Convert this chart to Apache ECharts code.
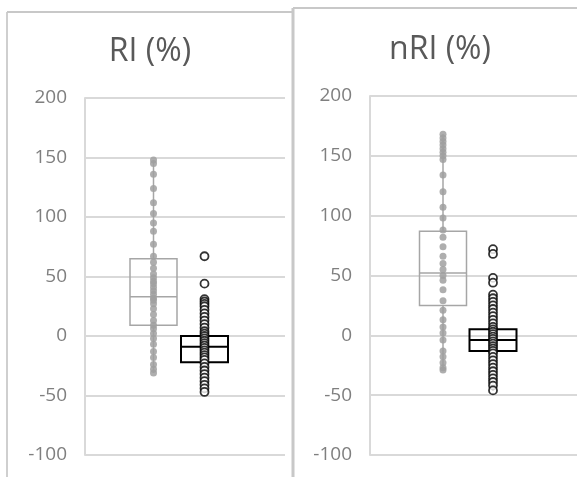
<!DOCTYPE html>
<html>
<head>
<meta charset="utf-8">
<script src="https://cdn.jsdelivr.net/npm/echarts@6/dist/echarts.min.js"></script>
<style>html,body{margin:0;padding:0;background:#fff}#c{width:577px;height:477px}</style>
</head>
<body>
<div id="c"></div>
<script>
var yTicks = [-100, -50, 0, 50, 100, 150, 200];
var titles = ['RI (%)', 'nRI (%)'];
var groups = ['A', 'B'];
// [min, Q1, median, Q3, max]
var riBox = [[-31, 9, 33, 65, 148], [-47, -22, -9, 0, 31]];
var nriBox = [[-29, 25, 52, 87, 168], [-46, -13, -4, 5, 34]];
var riGrey = [148, 145, 136, 124, 112, 103, 95, 88, 77, 67, 62, 57, 52, 49, 46, 44, 41, 38, 35, 32, 30, 27, 23, 18, 13, 9, 6, 2, -2, -7, -13, -18, -24, -28, -31];
var riBlack = [67, 44, 31, 29, 27, 25, 22, 19, 16, 13, 10, 7, 4, 2, 0, -2, -4, -6, -8, -10, -12, -14, -16, -18, -20, -23, -26, -29, -32, -35, -38, -41, -44, -47];
var nriGrey = [168, 165, 162, 159, 156, 153, 150, 147, 134, 120, 107, 98, 88, 82, 74, 66, 60, 55, 50, 46, 38, 29, 21, 13, 7, 2, -4, -13, -18, -23, -27, -29];
var nriBlack = [72, 68, 48, 44, 34, 31, 28, 25, 22, 19, 16, 13, 10, 7, 5, 3, 1, -1, -3, -5, -7, -9, -11, -13, -15, -18, -21, -24, -27, -30, -33, -36, -39, -42, -46];

var chart = echarts.init(document.getElementById('c'));
var FONT = 'Open Sans';
var boxColors = ['#a6a6a6', '#000000'];
var boxLW = [1.5, 2];

function boxRender(params, api) {
  var cat = api.value(0);
  var w = 47;
  var pMin = api.coord([cat, api.value(1)]);
  var pQ1 = api.coord([cat, api.value(2)]);
  var pMed = api.coord([cat, api.value(3)]);
  var pQ3 = api.coord([cat, api.value(4)]);
  var pMax = api.coord([cat, api.value(5)]);
  var x = pMed[0];
  var st = {stroke: boxColors[cat], lineWidth: boxLW[cat], fill: null};
  return {
    type: 'group',
    children: [
      {type: 'line', shape: {x1: x, y1: pMax[1], x2: x, y2: pQ3[1]}, style: st},
      {type: 'line', shape: {x1: x, y1: pQ1[1], x2: x, y2: pMin[1]}, style: st},
      {type: 'rect', shape: {x: x - w / 2, y: pQ3[1], width: w, height: pQ1[1] - pQ3[1]}, style: st},
      {type: 'line', shape: {x1: x - w / 2, y1: pMed[1], x2: x + w / 2, y2: pMed[1]}, style: st}
    ]
  };
}
function boxData(arr) {
  return arr.map(function (b, i) { return [i].concat(b); });
}
function pts(arr, cat) { return arr.map(function (v) { return [cat, v]; }); }

var panelGrids = [
  {left: 85, top: 98, width: 200, height: 357},
  {left: 370, top: 96, width: 207, height: 359}
];
var boxGrids = [
  {left: 128, top: 98, width: 102, height: 357},
  {left: 418, top: 96, width: 100, height: 359}
];

var grids = [], xAxes = [], yAxes = [], series = [];
[0, 1].forEach(function (p) {
  grids.push(panelGrids[p]);
  grids.push(boxGrids[p]);
  xAxes.push({type: 'value', gridIndex: 2 * p, show: false, min: 0, max: 1});
  xAxes.push({type: 'category', gridIndex: 2 * p + 1, data: groups, show: false, boundaryGap: true});
  yAxes.push({
    type: 'value', gridIndex: 2 * p, min: yTicks[0], max: yTicks[yTicks.length - 1], interval: 50,
    axisLine: {show: true, lineStyle: {color: '#d9d9d9', width: 2}},
    axisTick: {show: false},
    axisLabel: {color: '#7f7f7f', fontSize: 19, fontFamily: FONT, margin: 18},
    splitLine: {show: true, lineStyle: {color: '#d9d9d9', width: 2}}
  });
  yAxes.push({type: 'value', gridIndex: 2 * p + 1, min: -100, max: 200, interval: 50, show: false, splitLine: {show: false}});
  var bx = p === 0 ? riBox : nriBox;
  var gr = p === 0 ? riGrey : nriGrey;
  var bl = p === 0 ? riBlack : nriBlack;
  series.push({
    type: 'custom', xAxisIndex: 2 * p + 1, yAxisIndex: 2 * p + 1,
    renderItem: boxRender, data: boxData(bx), z: 2, silent: true
  });
  series.push({
    type: 'scatter', xAxisIndex: 2 * p + 1, yAxisIndex: 2 * p + 1, data: pts(gr, 0),
    symbolSize: 7, itemStyle: {color: '#a0a0a0', opacity: 0.85}, z: 3
  });
  series.push({
    type: 'scatter', xAxisIndex: 2 * p + 1, yAxisIndex: 2 * p + 1, data: pts(bl, 1),
    symbolSize: 8, itemStyle: {color: '#ffffff', borderColor: '#000000', borderWidth: 1.8}, z: 4
  });
});

chart.setOption({
  animation: false,
  grid: grids,
  xAxis: xAxes,
  yAxis: yAxes,
  series: series,
  graphic: [
    {type: 'line', shape: {x1: 7, y1: 12, x2: 7, y2: 477}, style: {stroke: '#cfcfcf', lineWidth: 2}},
    {type: 'line', shape: {x1: 7, y1: 12, x2: 292, y2: 12}, style: {stroke: '#c8c8c8', lineWidth: 2}},
    {type: 'line', shape: {x1: 293, y1: 8, x2: 293, y2: 477}, style: {stroke: '#c8c8c8', lineWidth: 3}},
    {type: 'line', shape: {x1: 293, y1: 8, x2: 577, y2: 8}, style: {stroke: '#c8c8c8', lineWidth: 2}},
    {type: 'text', x: 150, y: 52, style: {text: titles[0], fill: '#595959', font: '32px "' + FONT + '"', textAlign: 'center', textVerticalAlign: 'middle'}},
    {type: 'text', x: 440, y: 50, style: {text: titles[1], fill: '#595959', font: '32px "' + FONT + '"', textAlign: 'center', textVerticalAlign: 'middle'}}
  ]
});
</script>
</body>
</html>
